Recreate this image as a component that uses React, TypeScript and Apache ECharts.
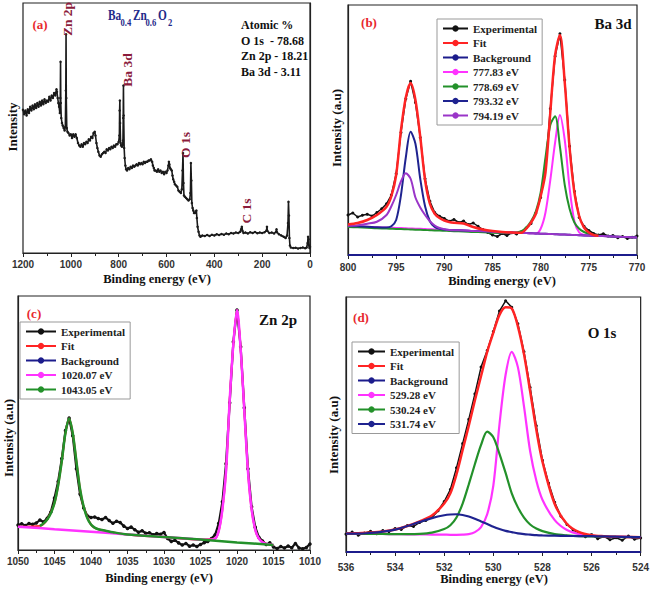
import React, { useEffect, useRef } from "react";
import * as echarts from "echarts";

// ---------- Panel (a): survey spectrum [binding energy, intensity] ----------
const surveyPoints: [number, number][] = [
  [1200, 57.3], [1195, 55.5], [1190, 57.0], [1185, 55.0], [1180, 57.5], [1175, 56.0], [1170, 58.5], [1165, 57.0],
  [1160, 59.0], [1155, 57.5], [1150, 59.5], [1145, 58.0], [1140, 60.0], [1135, 58.5], [1130, 60.5], [1125, 59.0],
  [1120, 61.0], [1115, 59.5], [1110, 61.5], [1105, 60.0], [1100, 61.0], [1095, 60.5], [1090, 62.5], [1085, 61.0],
  [1080, 63.0], [1075, 62.0], [1070, 64.0], [1065, 63.0], [1060, 65.5], [1058, 64.5], [1055, 62.0], [1052, 60.0],
  [1049, 58.5], [1046, 56.0], [1044, 62.0], [1043, 76.5], [1042, 60.0], [1040, 54.0], [1037, 52.0], [1034, 51.0],
  [1030, 50.0], [1026, 49.0], [1023, 50.5], [1021, 65.0], [1020, 87.5], [1019, 62.0], [1017, 50.0], [1014, 48.5],
  [1010, 48.0], [1005, 47.0], [1000, 47.5], [995, 46.0], [990, 47.5], [985, 46.5], [980, 47.5], [975, 46.0],
  [970, 44.0], [965, 43.0], [960, 42.5], [955, 43.5], [950, 42.5], [945, 44.0], [940, 43.5], [935, 44.5],
  [930, 44.0], [925, 45.5], [920, 45.0], [915, 46.5], [910, 46.0], [905, 48.0], [900, 48.5], [897, 47.0],
  [893, 44.0], [889, 42.0], [885, 40.5], [880, 39.0], [875, 38.5], [870, 39.5], [865, 40.0], [860, 40.5],
  [855, 40.0], [850, 41.5], [845, 41.0], [840, 42.0], [835, 41.5], [830, 42.5], [825, 42.0], [820, 43.0],
  [815, 42.5], [810, 43.5], [805, 43.5], [800, 44.5], [797, 47.0], [796, 57.0], [795, 61.0], [794, 52.0],
  [792, 44.0], [790, 43.0], [786, 42.5], [784, 43.0], [782, 45.0], [781, 54.0], [780, 67.0], [779, 55.0],
  [777, 42.0], [775, 38.0], [772, 35.0], [769, 33.5], [765, 33.0], [760, 34.0], [755, 33.5], [750, 34.5],
  [745, 34.0], [740, 35.0], [735, 34.5], [730, 35.0], [725, 35.5], [720, 35.0], [715, 36.0], [710, 35.5],
  [705, 36.0], [700, 35.5], [695, 36.5], [690, 36.0], [685, 36.5], [680, 36.5], [675, 37.0], [670, 37.0],
  [665, 37.5], [660, 36.5], [657, 35.0], [653, 34.0], [650, 33.0], [645, 33.0], [640, 32.5], [635, 33.5],
  [630, 32.5], [625, 33.0], [620, 32.0], [615, 32.5], [610, 31.5], [605, 32.5], [600, 32.0], [596, 33.0],
  [592, 35.0], [590, 36.5], [588, 35.5], [585, 34.0], [582, 33.5], [578, 33.0], [575, 31.0], [572, 29.5],
  [568, 28.5], [565, 27.5], [560, 27.0], [555, 26.5], [550, 25.0], [545, 24.5], [540, 24.0], [536, 25.5],
  [533, 33.0], [531, 40.0], [529, 28.0], [527, 23.0], [523, 22.5], [518, 22.0], [513, 21.5], [508, 21.0],
  [503, 21.5], [500, 24.0], [498, 36.0], [496, 29.0], [494, 20.0], [491, 18.0], [488, 17.0], [485, 16.0],
  [481, 16.0], [478, 16.5], [475, 17.0], [473, 14.0], [470, 10.5], [466, 8.5], [462, 7.0], [458, 6.5],
  [450, 7.0], [440, 6.8], [430, 7.2], [420, 6.8], [410, 7.3], [400, 7.0], [390, 7.5], [380, 7.2],
  [370, 7.6], [360, 7.3], [350, 7.8], [340, 7.5], [330, 8.0], [320, 7.8], [310, 8.2], [300, 8.0],
  [292, 8.5], [288, 9.5], [285, 10.5], [282, 8.8], [278, 8.0], [270, 8.2], [260, 7.8], [250, 8.3],
  [240, 8.0], [230, 8.4], [220, 7.9], [210, 8.2], [200, 8.0], [190, 8.3], [182, 9.0], [180, 10.5],
  [178, 8.8], [170, 8.0], [160, 8.2], [150, 7.8], [142, 8.5], [140, 9.5], [138, 8.3], [130, 7.5],
  [120, 7.0], [110, 6.5], [102, 6.0], [96, 7.0], [92, 12.0], [90, 20.5], [88, 15.0], [86, 6.0],
  [84, 3.0], [80, 2.2], [70, 2.0], [60, 2.1], [50, 1.8], [40, 2.0], [30, 2.2], [20, 1.9],
  [14, 2.2], [10, 4.0], [8, 6.5], [6, 5.5], [4, 3.0], [2, 2.0], [0, 2.5],
];

// ---------- Panel (b): Ba 3d ----------
const baEnergy = [800, 799, 798, 797, 796, 795.5, 795, 794.5, 794, 793.5, 793, 792.5, 792, 791.5, 791, 790.5, 790, 789.5,
  789, 788, 787, 786, 785, 784, 783, 782, 781.5, 781, 780.5, 780, 779.5, 779, 778.5, 778, 777.5, 777, 776.5, 776, 775.5,
  775, 774.5, 774, 773, 772, 771, 770];
const baFit = [12.2, 12.8, 14.0, 16.0, 19.3, 23.5, 32.0, 50.0, 63.0, 68.8, 62.0, 47.3, 30.0, 20.5, 16.5, 14.8, 13.8, 13.2,
  12.9, 12.6, 11.2, 10.2, 9.6, 9.2, 9.0, 8.9, 10.5, 13.0, 16.5, 23.5, 33.0, 57.0, 80.0, 88.0, 69.0, 43.0, 25.0, 15.5, 11.0,
  9.0, 8.0, 7.7, null, null, null, null];
const baPeak77783 = [11.6, 11.45, 11.3, 11.1, 11.0, 10.9, 10.8, 10.8, 10.7, 10.6, 10.5, 10.5, 10.4, 10.3, 10.2, 10.2, 10.1, 10.0,
  9.9, 9.8, 9.6, 9.5, 9.3, 9.1, 9.0, 8.8, 8.8, 8.7, 8.6, 10.5, 17.0, 30.0, 45.0, 56.0, 46.0, 27.0, 13.5, 9.0, 8.0,
  7.8, 7.7, 7.6, 7.5, 7.3, 7.2, 7.0];
const baPeak77869 = [11.2, 11.05, 10.9, 10.7, 10.6, 10.5, 10.4, 10.4, 10.3, 10.2, 10.1, 10.1, 10.0, 9.9, 9.8, 9.8, 9.7, 9.6,
  9.5, 9.4, 9.2, 9.1, 8.9, 8.8, 8.8, 9.5, 11.0, 13.5, 17.5, 25.0, 39.0, 52.0, 55.5, 43.3, 28.0, 18.5, 13.0, 10.5, 9.2,
  8.5, 8.0, 7.7, 7.5, 7.3, 7.2, 7.0];
const baPeak79332 = [11.6, 11.45, 11.3, 11.1, 11.0, 11.5, 14.0, 24.0, 39.0, 49.3, 44.5, 30.5, 19.5, 13.5, 11.2, 10.5, 10.2, 10.0,
  9.9, 9.8, 9.6, 9.5, 9.3, 9.1, 9.0, 8.8, 8.8, 8.7, 8.6, 8.5, 8.5, 8.4, 8.3, 8.2, 8.2, 8.1, 8.0, 7.9, 7.8,
  7.8, 7.7, 7.6, 7.5, 7.3, 7.2, 7.0];
const baPeak79419 = [11.7, 11.9, 12.5, 13.3, 16.0, 19.5, 24.0, 29.5, 32.7, 30.5, 23.0, 19.0, 16.0, 13.5, 11.8, 10.8, 10.3, 10.0,
  9.9, 9.8, 9.6, 9.5, 9.3, 9.1, 9.0, 8.8, 8.8, 8.7, 8.6, 8.5, 8.5, 8.4, 8.3, 8.2, 8.2, 8.1, 8.0, 7.9, 7.8,
  7.8, 7.7, 7.6, 7.5, 7.3, 7.2, 7.0];
const baExpEnergy = [800, 799.5, 799, 798.5, 798, 797.5, 797, 796.5, 796, 795.5, 795, 794.5, 794, 793.5, 793, 792.5, 792, 791.5,
  791, 790.5, 790, 789.5, 789, 788.5, 788, 787.5, 787, 786.5, 786, 785.5, 785, 784.5, 784, 783.5, 783, 782.5, 782, 781.5,
  781, 780.5, 780, 779.5, 779, 778.5, 778, 777.5, 777, 776.5, 776, 775.5, 775, 774.5, 774, 773.5, 773, 772.5, 772, 771.5,
  771, 770.5, 770];
const baExp = [16.0, 16.8, 15.2, 15.9, 16.3, 15.6, 17.0, 18.5, 20.5, 24.0, 32.5, 49.0, 62.5, 69.5, 61.0, 47.0, 30.5, 21.5,
  17.0, 15.5, 14.6, 13.5, 14.2, 13.0, 13.6, 12.2, 12.8, 11.5, 10.2, 9.0, 8.0, 7.4, 8.6, 7.8, 8.9, 8.4, 9.3, 10.8,
  12.6, 16.8, 23.0, 34.5, 58.5, 79.5, 88.5, 70.0, 43.5, 25.5, 15.0, 11.5, 9.8, 8.6, 8.0, 8.5, 7.6, 7.8, 6.9, 7.4,
  6.6, 7.1, 7.6];
const baBackgroundEnergy = [800, 770];
const baBackground = [0, 0];

// ---------- Panel (c): Zn 2p ----------
const znExpEnergy = [1050, 1049.5, 1049, 1048.5, 1048, 1047.5, 1047, 1046.5, 1046, 1045.5, 1045, 1044.5, 1044, 1043.5, 1043,
  1042.5, 1042, 1041.5, 1041, 1040.5, 1040, 1039.5, 1039, 1038.5, 1038, 1037.5, 1037, 1036.5, 1036, 1035.5, 1035, 1034.5,
  1034, 1033.5, 1033, 1032.5, 1032, 1031.5, 1031, 1030.5, 1030, 1029.5, 1029, 1028.5, 1028, 1027.5, 1027, 1026.5, 1026,
  1025.5, 1025, 1024.5, 1024, 1023.5, 1023, 1022.5, 1022, 1021.5, 1021, 1020.5, 1020, 1019.5, 1019, 1018.5, 1018, 1017.5,
  1017, 1016.5, 1016, 1015.5, 1015, 1014.5, 1014, 1013.5, 1013, 1012.5, 1012, 1011.5, 1011, 1010.5, 1010];
const znExp = [9.8, 10.3, 9.6, 10.4, 10.1, 10.6, 11.8, 11.0, 12.5, 15.0, 20.5, 27.0, 36.0, 47.0, 52.0, 45.0, 32.0, 22.0,
  16.5, 13.5, 12.8, 13.0, 12.4, 12.0, 12.8, 11.6, 10.5, 11.3, 10.8, 9.4, 8.5, 9.0, 8.0, 7.0, 7.6, 6.6, 6.8, 6.0, 6.5, 6.2,
  6.9, 4.5, 3.4, 3.8, 2.8, 2.0, 2.6, 1.5, 2.0, 1.4, 2.2, 2.9, 3.4, 4.5, 6.0, 10.5, 19.0, 34.0, 58.0, 82.0, 94.5, 80.0,
  56.0, 32.0, 17.0, 9.0, 5.0, 3.5, 2.2, 2.8, 1.2, 0.6, 1.4, 0.8, 1.6, 0.9, 2.6, 0.8, 0.5, 1.0, 2.4];
const znFitEnergy = [1050, 1047, 1046, 1045, 1044.5, 1044, 1043.5, 1043, 1042.5, 1042, 1041.5, 1041, 1040, 1039, 1035, 1030,
  1025, 1023, 1022.5, 1022, 1021.5, 1021, 1020.5, 1020, 1019.5, 1019, 1018.5, 1018, 1017.5, 1017, 1016, 1015];
const znFit = [9.2, 9.5, 12.0, 18.5, 25.5, 35.0, 46.0, 51.8, 46.0, 35.0, 24.0, 17.0, 10.0, 8.2, 6.1, 5.1, 4.1, 4.5, 7.5, 16.0,
  31.0, 59.0, 81.0, 94.5, 79.0, 55.0, 31.0, 16.0, 8.0, 4.5, 2.4, 2.0];
const zn1020Energy = [1050, 1045, 1040, 1035, 1030, 1026, 1024, 1023, 1022.5, 1022, 1021.5, 1021, 1020.5, 1020, 1019.5, 1019,
  1018.5, 1018, 1017.5, 1017, 1016.5, 1016, 1015];
const zn1020 = [9.2, 8.2, 7.2, 6.1, 5.1, 4.3, 4.0, 4.5, 7.5, 16.0, 31.0, 59.0, 81.0, 94.5, 79.0, 55.0, 31.0, 16.0, 8.0, 4.5,
  3.0, 2.4, 2.0];
const zn1043Energy = [1047, 1046.5, 1046, 1045.5, 1045, 1044.5, 1044, 1043.5, 1043, 1042.5, 1042, 1041.5, 1041, 1040.5, 1040,
  1039.5, 1039, 1038, 1037, 1035, 1030, 1025, 1020, 1015];
const zn1043 = [9.5, 10.5, 12.0, 14.5, 18.5, 25.5, 35.0, 46.0, 51.8, 46.0, 35.0, 24.0, 17.0, 12.5, 10.0, 8.8, 8.2, 7.6, 7.0,
  6.1, 5.1, 4.1, 3.0, 2.0];

// ---------- Panel (d): O 1s ----------
const oEnergy = [536, 535.5, 535, 534.5, 534, 533.5, 533, 532.5, 532, 531.75, 531.5, 531.25, 531, 530.75, 530.5, 530.25, 530,
  529.75, 529.5, 529.25, 529, 528.75, 528.5, 528.25, 528, 527.5, 527, 526.5, 526, 525.5, 525, 524.5, 524];
const oFit = [7.3, 7.4, 7.6, 8.0, 8.8, 10.2, 12.0, 14.3, 19.0, 23.0, 30.5, 40.0, 49.5, 59.5, 69.0, 78.5, 86.0, 93.0, 96.0,
  95.5, 88.5, 77.5, 63.0, 48.0, 35.5, 18.8, 11.0, 7.8, 6.6, 6.2, 6.0, 5.9, 5.8];
const o52928 = [7.2, 7.15, 7.1, 7.05, 7.0, 6.95, 6.9, 6.85, 6.8, 6.75, 6.75, 6.8, 7.0, 7.8, 9.8, 14.8, 26.0, 50.0, 69.5,
  78.5, 72.5, 57.0, 39.5, 28.0, 20.5, 12.5, 8.6, 7.0, 6.4, 6.1, 5.95, 5.85, 5.8];
const o53024 = [7.2, 7.15, 7.1, 7.05, 7.0, 7.0, 7.1, 7.6, 9.0, 10.5, 13.5, 19.0, 26.5, 34.5, 42.0, 47.2, 45.0, 38.5, 31.0,
  23.0, 17.5, 13.5, 10.8, 9.2, 8.2, 7.0, 6.5, 6.2, 6.1, 6.0, 5.9, 5.85, 5.8];
const o53174 = [7.2, 7.2, 7.5, 8.0, 8.8, 10.2, 11.8, 13.3, 14.4, 14.7, 14.8, 14.5, 13.9, 13.0, 12.0, 11.0, 9.9, 9.0, 8.3,
  7.8, 7.3, 7.0, 6.8, 6.6, 6.5, 6.4, 6.3, 6.25, 6.2, 6.1, 6.0, 5.9, 5.8];
const oExpEnergy = [536, 535.75, 535.5, 535.25, 535, 534.75, 534.5, 534.25, 534, 533.75, 533.5, 533.25, 533, 532.75, 532.5,
  532.25, 532, 531.75, 531.5, 531.25, 531, 530.75, 530.5, 530.25, 530, 529.75, 529.5, 529.25, 529, 528.75, 528.5, 528.25,
  528, 527.75, 527.5, 527.25, 527, 526.75, 526.5, 526.25, 526, 525.75, 525.5, 525.25, 525, 524.75, 524.5, 524.25, 524];
const oExp = [7.0, 7.8, 6.6, 7.4, 8.1, 7.2, 8.4, 8.0, 9.2, 8.8, 10.4, 10.0, 11.6, 12.4, 13.5, 16.2, 19.8, 24.5, 33.0, 42.5,
  52.0, 62.0, 72.5, 79.0, 86.5, 94.5, 98.5, 96.0, 89.5, 78.5, 64.5, 49.5, 36.0, 27.0, 19.5, 14.0, 10.8, 8.6, 7.4, 6.0,
  6.8, 5.2, 6.1, 4.8, 5.6, 4.6, 6.3, 5.0, 5.5];
const oBackgroundEnergy = [536, 524];
const oBackground = [0, 0];

// ---------- Text ----------
const atomicLines = ["Atomic %", "O 1s  - 78.68", "Zn 2p - 18.21", "Ba 3d - 3.11"];
const xTitle = "Binding energy (eV)";

const SERIF = "'Liberation Serif', 'Times New Roman', serif";
const SANS = "'Liberation Sans', Arial, sans-serif";
const C_EXP = "#111111";
const C_FIT = "#ff2424";
const C_BG = "#1c1c8c";
const C_MAG = "#ff33ff";
const C_GRN = "#23912a";
const C_NAVY = "#1f2390";
const C_PUR = "#9a35c8";

const zip = (xs: number[], ys: (number | null)[]) => xs.map((x, i) => [x, ys[i]]);

function exp(name: string, idx: number, data: any[], w = 1.5, s = 3) {
  return {
    type: "line", name, xAxisIndex: idx, yAxisIndex: idx, data,
    symbol: "circle", symbolSize: s, showSymbol: true,
    lineStyle: { color: C_EXP, width: w }, itemStyle: { color: C_EXP },
    z: 2,
  };
}
function comp(name: string, idx: number, data: any[], color: string, w = 2, z = 3) {
  return {
    type: "line", name, xAxisIndex: idx, yAxisIndex: idx, data,
    smooth: 0.3, symbol: "circle", symbolSize: 4, showSymbol: false,
    lineStyle: { color, width: w }, itemStyle: { color }, z,
  };
}

function xAxis(gridIndex: number, min: number, max: number, interval: number, margin: number) {
  return {
    type: "value", gridIndex, min, max, interval, inverse: true,
    axisLine: { show: true, onZero: false, lineStyle: { color: "#222", width: 1.2 } },
    axisTick: { show: true, inside: false, length: 4, lineStyle: { color: "#222" } },
    minorTick: { show: true, splitNumber: 2, length: 3, lineStyle: { color: "#222" } },
    axisLabel: {
      margin, fontSize: 10, fontWeight: "bold", color: "#333", fontFamily: SANS,
      formatter: (v: number) => String(v),
    },
    splitLine: { show: false },
  };
}
function yAxis(gridIndex: number) {
  return {
    type: "value", gridIndex, min: 0, max: 100,
    axisLine: { show: true, lineStyle: { color: "#222", width: 1.2 } },
    axisTick: { show: false }, axisLabel: { show: false }, splitLine: { show: false },
  };
}
function legend(left: number, top: number, data: string[], itemWidth: number) {
  return {
    left, top, orient: "vertical", data, itemWidth, itemHeight: 8, itemGap: 3.5,
    padding: [4, 5, 4, 5], borderColor: "#999", borderWidth: 1, backgroundColor: "#fff",
    selectedMode: false,
    textStyle: { fontFamily: SERIF, fontWeight: "bold", fontSize: 11, color: "#222", lineHeight: 11 },
  };
}
function txt(text: string, x: number, y: number, size: number, fill: string, opts: any = {}) {
  return {
    type: "text", x, y, rotation: opts.rotation || 0, scaleX: opts.scaleX || 1, z: 100,
    style: {
      text, fill, font: `${opts.weight || "bold"} ${size}px ${SERIF}`,
      align: opts.align || "center", verticalAlign: "middle",
    },
  };
}

export default function App() {
  const ref = useRef<HTMLDivElement>(null);
  useEffect(() => {
    if (!ref.current) return;
    const chart = echarts.init(ref.current, undefined, { renderer: "svg" });
    const grids = [
      { left: 23, top: 3, width: 287, height: 250 },
      { left: 348, top: 5, width: 289, height: 250 },
      { left: 18, top: 296, width: 292, height: 254 },
      { left: 346, top: 297, width: 296, height: 255 },
    ].map((g) => ({ ...g, show: true, borderColor: "#222", borderWidth: 1.2 }));

    const R = Math.PI / 2;
    const F = "#1f2a8a";
    const SX = { align: "left", scaleX: 0.78 };
    const graphic: any[] = [
      // panel (a)
      txt("(a)", 40, 24, 13, "#e8282e"),
      txt("Ba", 108, 15, 14.5, F, SX),
      txt("0.4", 120.5, 22.5, 11, F, SX),
      txt("Zn", 133, 15, 14.5, F, SX),
      txt("0.6", 145.5, 22.5, 11, F, SX),
      txt("O", 158, 15, 14.5, F, SX),
      txt("2", 168, 22.5, 11, F, SX),
      ...atomicLines.map((t, i) => txt(t, 241, 25 + i * 15.7, 12, "#111", { align: "left" })),
      txt("Zn 2p", 67, 19, 13.5, "#8b1c3c", { rotation: R }),
      txt("Ba 3d", 127, 70, 13.5, "#8b1c3c", { rotation: R }),
      txt("O 1s", 185, 145, 13.5, "#8b1c3c", { rotation: R }),
      txt("C 1s", 246, 211, 13.5, "#8b1c3c", { rotation: R }),
      txt("Intensity", 12, 127, 13, "#111", { rotation: R }),
      txt(xTitle, 157, 279, 12.5, "#111"),
      // panel (b)
      txt("(b)", 369, 22, 13, "#e8282e"),
      txt("Ba 3d", 613, 24, 15, "#111"),
      txt("Intensity (a.u)", 336, 128, 13, "#111", { rotation: R }),
      txt(xTitle, 502, 281, 12.5, "#111"),
      // panel (c)
      txt("(c)", 34, 313, 13, "#e8282e"),
      txt("Zn 2p", 278, 320, 15, "#111"),
      txt("Intensity (a.u)", 8, 438, 13, "#111", { rotation: R }),
      txt(xTitle, 159, 578, 12.5, "#111"),
      // panel (d)
      txt("(d)", 361, 317, 13, "#e8282e"),
      txt("O 1s", 602, 333, 15, "#111"),
      txt("Intensity (a.u)", 333, 435, 13, "#111", { rotation: R }),
      txt(xTitle, 494, 579, 12.5, "#111"),
    ];

    chart.setOption({
      animation: false,
      backgroundColor: "#fff",
      grid: grids,
      xAxis: [
        xAxis(0, 0, 1200, 200, 6),
        xAxis(1, 770, 800, 5, 7),
        xAxis(2, 1010, 1050, 5, 6),
        xAxis(3, 524, 536, 2, 10),
      ],
      yAxis: [yAxis(0), yAxis(1), yAxis(2), yAxis(3)],
      legend: [
        legend(437, 19, ["Experimental", "Fit", "Background", "777.83 eV", "778.69 eV", "793.32 eV", "794.19 eV"], 25),
        legend(20, 322, ["Experimental", "Fit", "Background", "1020.07 eV", "1043.05 eV"], 30),
        legend(352, 342, ["Experimental", "Fit", "Background", "529.28 eV", "530.24 eV", "531.74 eV"], 27),
      ],
      graphic,
      series: [
        // (a)
        {
          type: "line", name: "Survey", xAxisIndex: 0, yAxisIndex: 0, data: surveyPoints,
          symbol: "circle", symbolSize: 2.5, showSymbol: true,
          lineStyle: { color: "#1a1a1a", width: 1.6 }, itemStyle: { color: "#1a1a1a" },
        },
        // (b)
        exp("Experimental", 1, zip(baExpEnergy, baExp)),
        comp("Background", 1, zip(baBackgroundEnergy, baBackground), C_BG, 2),
        comp("777.83 eV", 1, zip(baEnergy, baPeak77783), C_MAG),
        comp("778.69 eV", 1, zip(baEnergy, baPeak77869), C_GRN),
        comp("793.32 eV", 1, zip(baEnergy, baPeak79332), C_NAVY),
        comp("794.19 eV", 1, zip(baEnergy, baPeak79419), C_PUR),
        comp("Fit", 1, zip(baEnergy, baFit), C_FIT, 2.5, 4),
        // (c)
        exp("Experimental", 2, zip(znExpEnergy, znExp), 2.2, 3.5),
        comp("Fit", 2, zip(znFitEnergy, znFit), C_FIT),
        comp("Background", 2, [], C_BG),
        comp("1020.07 eV", 2, zip(zn1020Energy, zn1020), C_MAG, 2.5),
        comp("1043.05 eV", 2, zip(zn1043Energy, zn1043), C_GRN, 2.5),
        // (d)
        exp("Experimental", 3, zip(oExpEnergy, oExp)),
        comp("Background", 3, zip(oBackgroundEnergy, oBackground), C_BG, 2),
        comp("529.28 eV", 3, zip(oEnergy, o52928), C_MAG, 2.2),
        comp("530.24 eV", 3, zip(oEnergy, o53024), C_GRN, 2.2),
        comp("Fit", 3, zip(oEnergy, oFit), C_FIT, 2.5),
        comp("531.74 eV", 3, zip(oEnergy, o53174), C_NAVY, 2.2, 5),
      ],
    });
    return () => chart.dispose();
  }, []);
  return (
    <div
      ref={ref}
      style={{ position: "fixed", left: 0, top: 0, width: 652, height: 589, background: "#fff" }}
    />
  );
}
